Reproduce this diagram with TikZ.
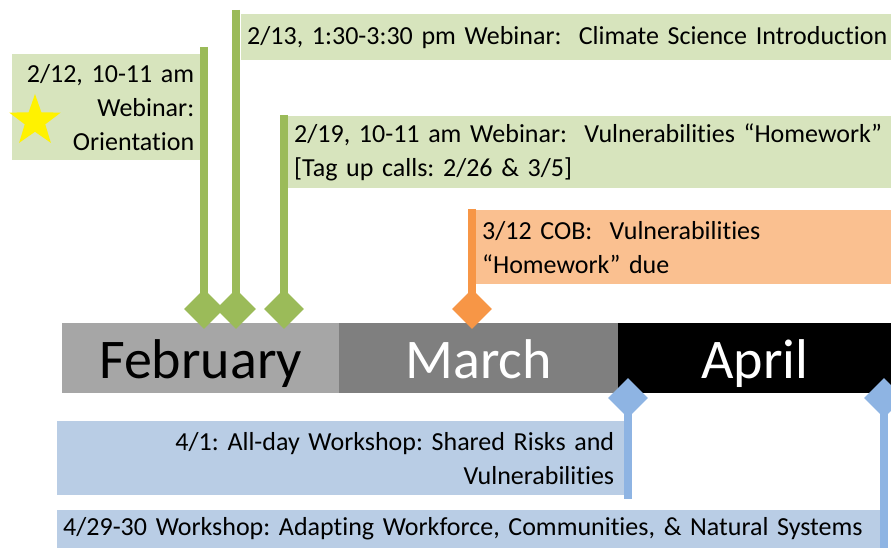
\documentclass[tikz,border=0pt]{standalone}
\usepackage{fontspec}
\setmainfont{Carlito}[Ligatures=NoCommon]
\usepackage{xcolor}
\usepackage{tikz}
\usetikzlibrary{shapes.geometric}
\definecolor{FebGray}{HTML}{A6A6A6}
\definecolor{MarGray}{HTML}{7F7F7F}
\definecolor{WebinarFill}{HTML}{D7E4BD}
\definecolor{WebinarLine}{HTML}{9BBB59}
\definecolor{DueFill}{HTML}{FAC090}
\definecolor{DueLine}{HTML}{F79646}
\definecolor{WorkshopFill}{HTML}{B9CDE5}
\definecolor{WorkshopLine}{HTML}{8EB4E3}
\frenchspacing
\hyphenpenalty=10000
\exhyphenpenalty=10000

\begin{document}
\begin{tikzpicture}[x=1pt, y=-1pt,
    monthbox/.style={anchor=north west, minimum height=70pt, inner sep=0pt, text height=45pt, text depth=5pt, font=\fontsize{56}{60}\selectfont},
    eventbox/.style={anchor=north west, inner xsep=6pt, inner ysep=0pt, font=\fontsize{26}{34}\selectfont},
    marker/.style={diamond, minimum size=40pt, inner sep=0pt},
    stem/.style={line width=8pt}]
    \useasboundingbox (0,0) rectangle (891,548);

    % Months
    \node[monthbox, fill=FebGray, minimum width=277pt] (feb) at (62,323) {February};
    \node[monthbox, fill=MarGray, minimum width=279pt, text=white] (mar) at (339,323) {March};
    \node[monthbox, fill=black, minimum width=273pt, text=white] (apr) at (618,323) {April};

    % Webinars
    \node[eventbox, fill=WebinarFill, text width=176pt, minimum height=106pt, align=right] (orient) at (12,54)
        {2/12, 10-11 am\\Webinar:\\Orientation};
    \node[star, star points=5, star point ratio=2.5, fill=yellow, minimum size=54pt, inner sep=0pt] (star) at (35,121) {};
    \node[eventbox, fill=WebinarFill, text width=660pt, minimum height=46pt, align=left] (climate) at (241,14)
        {2/13, 1:30-3:30 pm Webinar:\ \ Climate Science Introduction};
    \node[eventbox, fill=WebinarFill, text width=591pt, minimum height=72pt, align=left] (vuln) at (288,116)
        {2/19, 10-11 am Webinar:\ \ Vulnerabilities “Homework”\\{[Tag up calls: 2/26 \& 3/5]}};

    \coordinate (orienttop) at (204,47);
    \coordinate (climatetop) at (236,10);
    \coordinate (vulntop) at (284,115);
    \node[marker] (m1) at (204,309) {};
    \node[marker] (m2) at (236,309) {};
    \node[marker] (m3) at (284,309) {};
    \draw[stem, WebinarLine] (orienttop) -- (m1.center);
    \draw[stem, WebinarLine] (climatetop) -- (m2.center);
    \draw[stem, WebinarLine] (vulntop) -- (m3.center);
    \node[marker, fill=WebinarLine] at (m1) {};
    \node[marker, fill=WebinarLine] at (m2) {};
    \node[marker, fill=WebinarLine] at (m3) {};

    % Homework due
    \node[eventbox, fill=DueFill, text width=403pt, minimum height=74pt, align=left] (due) at (476,210)
        {3/12 COB:\ \ Vulnerabilities\\“Homework” due};
    \coordinate (duetop) at (472,209);
    \node[marker] (m4) at (472,309) {};
    \draw[stem, DueLine] (duetop) -- (m4.center);
    \node[marker, fill=DueLine] at (m4) {};

    % Workshops
    \node[eventbox, fill=WorkshopFill, inner xsep=12pt, text width=545pt, minimum height=74pt, align=right] (risks) at (57,421)
        {4/1: All-day Workshop: Shared Risks and\\Vulnerabilities};
    \node[eventbox, fill=WorkshopFill, text width=815pt, minimum height=38pt, align=left] (adapt) at (57,510)
        {4/29-30 Workshop: Adapting Workforce, Communities, \& Natural Systems};
    \coordinate (risksbot) at (628,499);
    \coordinate (adaptbot) at (884,548);
    \node[marker] (m5) at (628,398) {};
    \node[marker] (m6) at (884,398) {};
    \draw[stem, WorkshopLine] (m5.center) -- (risksbot);
    \draw[stem, WorkshopLine] (m6.center) -- (adaptbot);
    \node[marker, fill=WorkshopLine] at (m5) {};
    \node[marker, fill=WorkshopLine] at (m6) {};
\end{tikzpicture}
\end{document}
